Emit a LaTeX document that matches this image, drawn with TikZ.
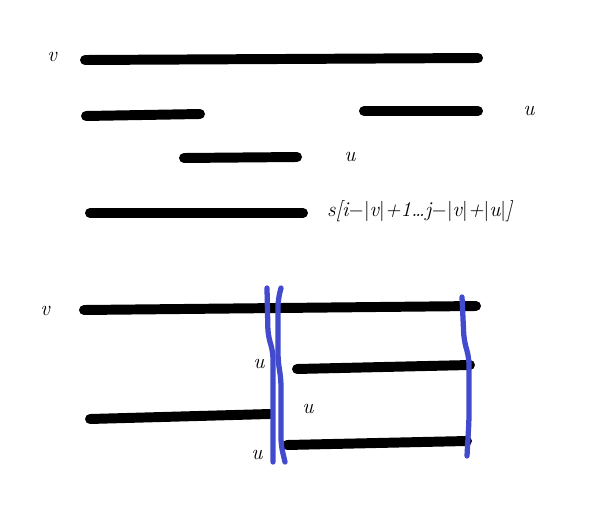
\documentclass[tikz,border=0pt]{standalone}
\usepackage{tikz}
\tikzset{
  seg/.style={line width=8.5pt, line cap=round, black},
  cut/.style={line width=4.5pt, line cap=round, color=cutblue, rounded corners=6pt},
  lb/.style={font=\fontsize{18pt}{18pt}\selectfont\itshape, inner sep=0pt}
}
\definecolor{cutblue}{RGB}{66,74,205}

\begin{document}
\begin{tikzpicture}[x=0.03cm, y=-0.03cm]
  \useasboundingbox (0,0) rectangle (615,506);
  % top part
  \coordinate (va) at (85,60);   \coordinate (vb) at (478,58);
  \coordinate (pa) at (86,116);  \coordinate (pb) at (200,114);
  \coordinate (qa) at (364,111); \coordinate (qb) at (478,111);
  \coordinate (ma) at (184,158); \coordinate (mb) at (297,157);
  \coordinate (sa) at (90,213);  \coordinate (sb) at (303,213);
  \draw[seg] (va) -- (vb);
  \draw[seg] (pa) -- (pb);
  \draw[seg] (qa) -- (qb);
  \draw[seg] (ma) -- (mb);
  \draw[seg] (sa) -- (sb);
  \node[lb] (vtop) at (52,57) {v};
  \node[lb] (utop) at (529,111) {u};
  \node[lb] (umid) at (350,157) {u};
  \node[lb, anchor=west] (sub) at (327,211) {s[i$-|$v$|$+1\dots j$-|$v$|$+$|$u$|$]};

  % bottom part
  \coordinate (wa) at (84,310);  \coordinate (wb) at (476,306);
  \coordinate (ra) at (297,369); \coordinate (rb) at (470,365);
  \coordinate (la) at (90,419);  \coordinate (lb) at (270,414);
  \coordinate (ka) at (287,445); \coordinate (kb) at (467,441);
  \draw[seg] (wa) -- (wb);
  \draw[seg] (ra) -- (rb);
  \draw[seg] (la) -- (lb);
  \draw[seg] (ka) -- (kb);
  \node[lb] (vbot) at (45,311) {v};
  \node[lb] (ua) at (259,364) {u};
  \node[lb] (ub) at (308,409) {u};
  \node[lb] (uc) at (257,455) {u};

  % the cuts
  \draw[cut] (267,288) -- (268,335) -- (273,352) -- (273,462);
  \draw[cut] (281,288) -- (278,300) -- (278,360) -- (281,380) -- (281,445) -- (285,462);
  \draw[cut] (462,297) -- (464,340) -- (469,358) -- (469,420) -- (467,456);
\end{tikzpicture}
\end{document}
